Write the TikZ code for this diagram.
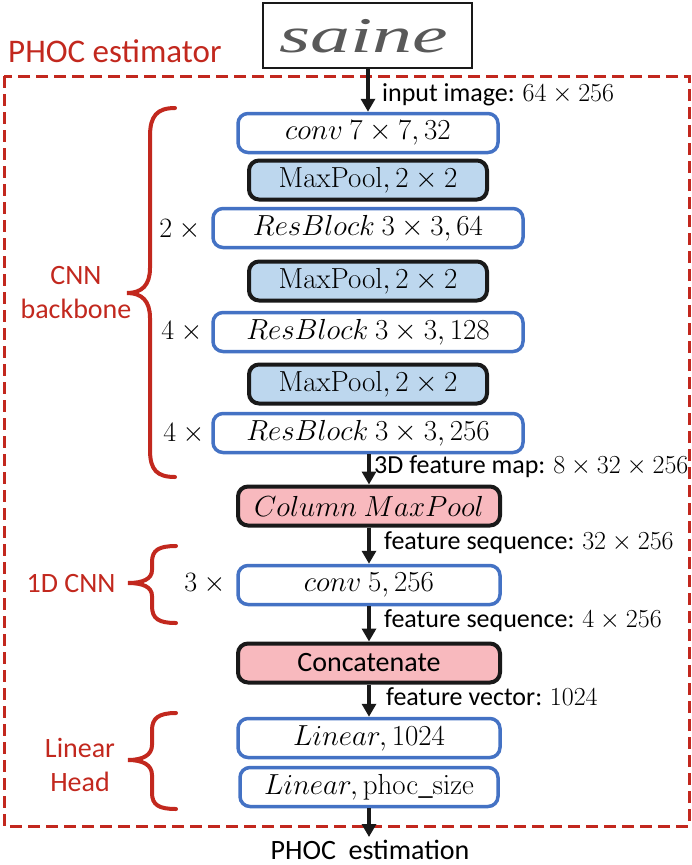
\RequirePackage{fix-cm}
\documentclass[tikz,border=0pt]{standalone}
\usepackage[no-math]{fontspec}
\setmainfont{Carlito}
\newfontfamily\handfont{Liberation Serif}
\usetikzlibrary{arrows.meta}

\definecolor{phocred}{RGB}{194,40,30}
\definecolor{boxblue}{RGB}{68,114,196}
\definecolor{poolfill}{RGB}{189,215,238}
\definecolor{pinkfill}{RGB}{248,185,190}

\tikzset{
  layer/.style={draw=boxblue, fill=white, line width=3.5pt, rounded corners=10pt,
    minimum height=39pt, inner sep=0pt, font=\fontsize{29}{32}\selectfont},
  pool/.style={layer, draw=black!90, line width=4pt, fill=poolfill},
  special/.style={layer, draw=black!90, line width=4pt, fill=pinkfill},
  flow/.style={-{Triangle[length=13pt,width=14pt]}, line width=3.5pt, black!90},
  dimlabel/.style={anchor=west, inner sep=0pt, font=\fontsize{26}{30}\selectfont},
  rep/.style={inner sep=0pt, font=\fontsize{28}{30}\selectfont},
  grouplabel/.style={inner sep=0pt, text=phocred, align=center, font=\fontsize{28}{34}\selectfont},
  brace/.style={draw=phocred, line width=4pt, line cap=round}
}

\begin{document}
\begin{tikzpicture}[x=1pt, y=-1pt]
\useasboundingbox (0,0) rectangle (692,865);

% estimator frame and its title
\draw[phocred, line width=3pt, dash pattern=on 12pt off 6pt] (4,76) rectangle (689,826);
\node[inner sep=0pt, text=phocred, anchor=west, font=\fontsize{33}{36}\selectfont] (title) at (8,51) {PHOC estimator};

% input word image
\node[draw=black!90, line width=1.5pt, fill=white, minimum width=209pt, minimum height=65pt, inner sep=0pt] (img) at (367.5,35.5) {};
\node[text=black!65, font=\fontsize{50}{50}\handfont\itshape, inner sep=0pt] (word) at (364,36) {\scalebox{1.6}[1.0]{saine}};

% backbone layers
\node[layer, minimum width=260pt] (c1) at (368,133) {$conv\ 7\times 7, 32$};
\node[pool, minimum width=238pt] (p1) at (368,180) {$\mathrm{MaxPool}, 2\times 2$};
\node[layer, minimum width=310pt] (r1) at (368,228) {$ResBlock\ 3\times 3, 64$};
\node[pool, minimum width=238pt] (p2) at (368,281) {$\mathrm{MaxPool}, 2\times 2$};
\node[layer, minimum width=310pt] (r2) at (368,332) {$ResBlock\ 3\times 3, 128$};
\node[pool, minimum width=238pt] (p3) at (368,384) {$\mathrm{MaxPool}, 2\times 2$};
\node[layer, minimum width=310pt] (r3) at (368,433) {$ResBlock\ 3\times 3, 256$};

% sequence part and head
\node[special, minimum width=262pt] (cm) at (369,506) {$Column\ MaxPool$};
\node[layer, minimum width=262pt] (c5) at (369,585) {$conv\ 5, 256$};
\node[special, minimum width=262pt] (cat) at (369,663) {\fontsize{28}{32}\selectfont Concatenate};
\node[layer, minimum width=262pt] (l1) at (369,738) {$Linear, 1024$};
\node[layer, minimum width=258pt] (l2) at (369,787) {$Linear, \mathrm{phoc\_size}$};
\coordinate (out) at (369,837);

% data flow
\draw[flow] (img.south -| c1) -- (c1.north);
\draw[flow] (r3.south -| cm) -- (cm.north);
\draw[flow] (cm) -- (c5);
\draw[flow] (c5) -- (cat);
\draw[flow] (cat) -- (l1);
\draw[flow] (l2.south) -- (out);

% tensor shapes
\node[dimlabel] (d1) at (382,95) {input image: $64\times 256$};
\node[dimlabel] (d2) at (374,467) {3D feature map: $8\times 32\times 256$};
\node[dimlabel] (d3) at (384,543) {feature sequence: $32\times 256$};
\node[dimlabel] (d4) at (384,621) {feature sequence: $4\times 256$};
\node[dimlabel] (d5) at (386,697) {feature vector: $1024$};
\node[font=\fontsize{28}{32}\selectfont, inner sep=0pt] (est) at (370,850) {PHOC\ \ estimation};

% repetition counts
\node[rep] (n1) at (183,230) {$2\times{}$};
\node[rep] (n2) at (185,332) {$4\times{}$};
\node[rep] (n3) at (187,434) {$4\times{}$};
\node[rep] (n4) at (208,584) {$3\times{}$};

% group braces
\draw[brace] (175,108) .. controls (157,108) and (150,116) .. (150,136)
  -- (150,268) .. controls (150,285) and (142,293) .. (127,293)
  .. controls (142,293) and (150,301) .. (150,318)
  -- (150,450) .. controls (150,470) and (157,477) .. (175,477);
\node[grouplabel] (g1) at (76,293) {CNN\\backbone};

\draw[brace] (176,546) .. controls (159,546) and (152,550) .. (152,562)
  -- (152,570) .. controls (152,579) and (143,583) .. (128,583)
  .. controls (143,583) and (152,587) .. (152,596)
  -- (152,606) .. controls (152,619) and (159,623) .. (176,623);
\node[grouplabel] (g2) at (71,584) {1D CNN};

\draw[brace] (176,713) .. controls (159,713) and (152,718) .. (152,730)
  -- (152,745) .. controls (152,755) and (143,760) .. (128,760)
  .. controls (143,760) and (152,765) .. (152,775)
  -- (152,793) .. controls (152,805) and (159,809) .. (176,809);
\node[grouplabel] (g3) at (80,765) {Linear\\Head};
\end{tikzpicture}
\end{document}
